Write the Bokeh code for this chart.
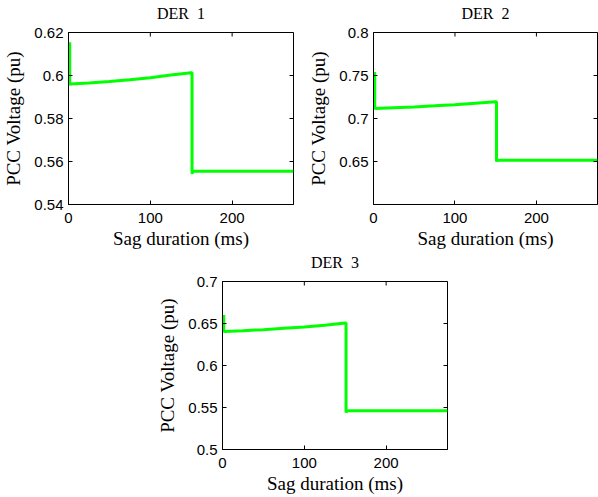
import math
from bokeh.plotting import figure
from bokeh.models import FixedTicker, Range1d, Spacer
from bokeh.layouts import column, row
from bokeh.embed import file_html
from bokeh.resources import INLINE

# ---- data ----
t1 = [1.5, 1.5, 2, 25, 50, 75, 100, 125, 150, 151, 151, 152, 275]
v1 = [0.6155, 0.5955, 0.5960, 0.5965, 0.5972, 0.5980, 0.5990, 0.6002, 0.6013, 0.6013, 0.5543, 0.5555, 0.5555]

t2 = [1.5, 1.5, 2, 25, 50, 75, 100, 125, 150, 151, 151, 152, 275]
v2 = [0.754, 0.7110, 0.7115, 0.7125, 0.7135, 0.7147, 0.7160, 0.7177, 0.7195, 0.7195, 0.6500, 0.6515, 0.6515]

t3 = [1.5, 1.5, 2, 25, 50, 75, 100, 125, 150, 151, 151, 152, 275]
v3 = [0.660, 0.6395, 0.6405, 0.6415, 0.6427, 0.6442, 0.6457, 0.6480, 0.6505, 0.6505, 0.5440, 0.5460, 0.5460]

titles = ["DER \u00a01", "DER \u00a02", "DER \u00a03"]
x_range = (0, 275)
x_ticks = [0, 100, 200]
y_range1 = (0.54, 0.62)
y_range2 = (0.60, 0.80)
y_range3 = (0.50, 0.70)
y_ticks1 = [0.54, 0.56, 0.58, 0.60, 0.62]
y_ticks2 = [0.65, 0.70, 0.75, 0.80]
y_ticks3 = [0.50, 0.55, 0.60, 0.65, 0.70]
x_label = "Sag duration (ms)"
y_label = "PCC Voltage (pu)"

SERIF = "Liberation Serif"
SANS = "Liberation Sans"


def make_fig(t, v, title, yr, yticks, fw, fh, mbl, mbr, mbt, mbb):
    p = figure(frame_width=fw, frame_height=fh,
               x_range=Range1d(*x_range), y_range=Range1d(*yr),
               output_backend="svg", toolbar_location=None,
               min_border_left=mbl, min_border_right=mbr,
               min_border_top=mbt, min_border_bottom=mbb,
               background_fill_color="white", border_fill_color=None)
    p.title.text = title
    p.title.align = "center"
    p.title.vertical_align = "top"
    p.title.standoff = 18
    p.title.text_font = SERIF
    p.title.text_font_style = "normal"
    p.title.text_font_size = "16px"
    p.title.text_color = "black"

    p.line(t, v, color="#00ff00", line_width=3)

    # inner tick marks on the top and right edges of the box (clipped to frame)
    p.scatter(x=x_ticks, y=[yr[1]] * len(x_ticks), marker="dash", size=8,
              angle=math.pi / 2, line_color="black", line_width=1)
    p.scatter(x=[x_range[1]] * len(yticks), y=yticks, marker="dash", size=8,
              line_color="black", line_width=1)

    p.xgrid.visible = False
    p.ygrid.visible = False
    p.outline_line_color = "black"
    p.outline_line_alpha = 1

    p.xaxis.ticker = FixedTicker(ticks=x_ticks)
    p.yaxis.ticker = FixedTicker(ticks=yticks)
    p.xaxis.axis_label = x_label
    p.yaxis.axis_label = y_label
    for ax in (p.xaxis[0], p.yaxis[0]):
        ax.major_tick_in = 4
        ax.major_tick_out = 0
        ax.minor_tick_line_color = None
        ax.axis_line_color = "black"
        ax.major_tick_line_color = "black"
        ax.major_label_text_font = SANS
        ax.major_label_text_font_size = "15px"
        ax.major_label_text_color = "black"
        ax.axis_label_text_font = SERIF
        ax.axis_label_text_font_style = "normal"
        ax.axis_label_text_font_size = "19px"
        ax.axis_label_text_color = "black"
    p.xaxis[0].major_label_standoff = 8
    p.xaxis[0].axis_label_standoff = 2
    p.yaxis[0].major_label_standoff = 5
    p.yaxis[0].axis_label_standoff = 7
    return p


p1 = make_fig(t1, v1, titles[0], y_range1, y_ticks1, 225, 172, 68, 7, 38, 48)
p2 = make_fig(t2, v2, titles[1], y_range2, y_ticks2, 224, 172, 73, 1, 38, 48)
p3 = make_fig(t3, v3, titles[2], y_range3, y_ticks3, 225, 168, 72, 7, 38, 48)

top_row = row(p1, p2, styles={"margin-top": "-6px"})
bottom_row = row(Spacer(width=150, height=10), p3, styles={"margin-top": "-9px"})
layout = column(top_row, bottom_row)

open("out.html", "w").write(file_html(layout, INLINE))
